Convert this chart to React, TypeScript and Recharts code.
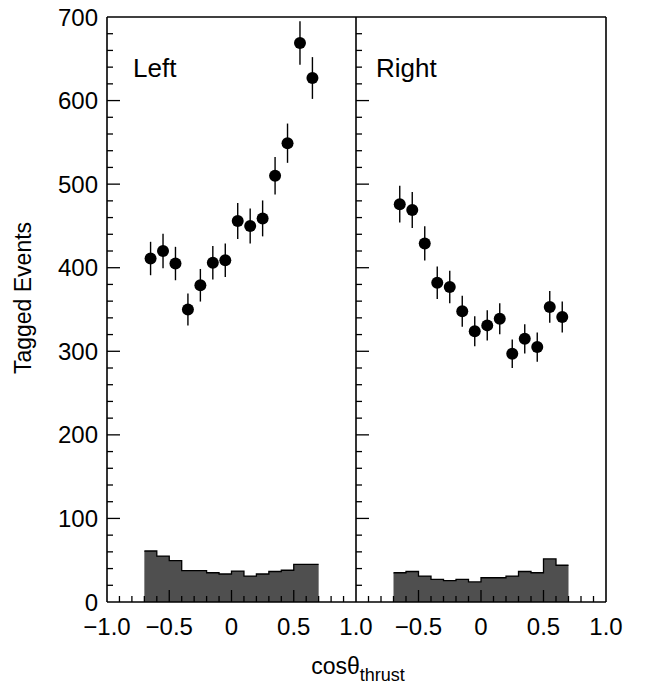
import React from 'react';
import { ComposedChart, Area, Scatter, ErrorBar, XAxis, YAxis, ReferenceLine } from 'recharts';

// histogram bin edges (shared by both panels) and point positions
const binEdges = [-0.7, -0.6, -0.5, -0.4, -0.3, -0.2, -0.1, 0, 0.1, 0.2, 0.3, 0.4, 0.5, 0.6, 0.7];
const binCenters = [-0.65, -0.55, -0.45, -0.35, -0.25, -0.15, -0.05, 0.05, 0.15, 0.25, 0.35, 0.45, 0.55, 0.65];

// shaded background histograms
const leftBackground = [61, 55, 49.5, 37.5, 37.5, 35, 33.5, 37, 31, 33.5, 36.5, 38, 45, 45];
const rightBackground = [35, 36.5, 31, 27, 25.5, 27, 24, 29, 29, 31, 36.5, 35, 51.5, 44];

// tagged events with errors
const leftEvents = [411, 420, 405, 350, 379, 406, 409, 456, 450, 459, 510, 549, 669, 627];
const leftErrors = [20, 20.5, 20, 19, 19.5, 20, 20, 21.5, 21, 21.5, 22.5, 23.5, 26, 25];
const rightEvents = [476, 469, 429, 382, 377, 348, 324, 331, 339, 297, 315, 305, 353, 341];
const rightErrors = [22, 21.5, 20.5, 19.5, 19.5, 18.5, 18, 18, 18.5, 17, 17.5, 17.5, 19, 18.5];

const xTicks = [-1, -0.9, -0.8, -0.7, -0.6, -0.5, -0.4, -0.3, -0.2, -0.1, 0, 0.1, 0.2, 0.3, 0.4, 0.5, 0.6, 0.7, 0.8, 0.9, 1];
const yTicks = [0, 20, 40, 60, 80, 100, 120, 140, 160, 180, 200, 220, 240, 260, 280, 300, 320, 340, 360, 380, 400,
  420, 440, 460, 480, 500, 520, 540, 560, 580, 600, 620, 640, 660, 680, 700];

const FONT = '"Liberation Sans", Arial, Helvetica, sans-serif';

const stepRows = (counts: number[]) =>
  binEdges.map((x, i) => ({ x, count: counts[Math.min(i, counts.length - 1)] }));

const pointRows = (vals: number[], errs: number[]) =>
  binCenters.map((x, i) => ({ x, y: vals[i], err: errs[i] }));

const fmtX = (v: number) => {
  if (Math.abs(v) < 1e-9) return '0';
  const s = Math.abs(v).toFixed(1);
  return v < 0 ? '\u2212' + s : s;
};

const XTick = (props: any) => {
  const { x, y, payload, skipFirst } = props;
  const v = payload.value;
  const edge = Math.abs(Math.abs(v) - 1) < 1e-6;
  const major = Math.abs(v * 2 - Math.round(v * 2)) < 1e-6;
  const len = major ? 12 : 6;
  const showLabel = major && !(skipFirst && v < -0.99);
  return (
    <g>
      {!edge && <line x1={x} x2={x} y1={y} y2={y - len} stroke="#000" strokeWidth={1.3} />}
      {showLabel && (
        <text x={x} y={y + 33} textAnchor="middle" fontSize={24} fill="#000" fontFamily={FONT}>
          {fmtX(v)}
        </text>
      )}
    </g>
  );
};

const YTick = (props: any) => {
  const { x, y, payload, dir, showLabel } = props;
  const v = payload.value;
  const major = v % 100 === 0;
  const len = major ? 13 : 6;
  const edge = v === 0 || v === 700;
  return (
    <g>
      {!edge && <line x1={x} x2={x + dir * len} y1={y} y2={y} stroke="#000" strokeWidth={1.3} />}
      {showLabel && major && (
        <text x={x - 9} y={y} dy="0.36em" textAnchor="end" fontSize={24} fill="#000" fontFamily={FONT}>
          {v}
        </text>
      )}
    </g>
  );
};

const Dot = (p: any) => <circle cx={p.cx} cy={p.cy} r={6} fill="#000" />;

const Panel = (props: any) => {
  const { counts, events, errors, width, margin, yWidth, showYLabels, skipFirst, rightEdge } = props;
  const areaAxis = rightEdge ? 'edge' : 0;
  return (
    <ComposedChart width={width} height={685} data={stepRows(counts)} margin={margin}>
      <XAxis
        dataKey="x"
        type="number"
        domain={[-1, 1]}
        ticks={xTicks}
        interval={0}
        height={83}
        tickSize={0}
        tickMargin={0}
        tickLine={false}
        axisLine={{ stroke: '#000', strokeWidth: 1.6 }}
        tick={(p: any) => <XTick {...p} skipFirst={skipFirst} />}
      />
      <YAxis
        type="number"
        domain={[0, 700]}
        allowDataOverflow
        ticks={yTicks}
        interval={0}
        width={yWidth}
        tickSize={0}
        tickMargin={0}
        tickLine={false}
        axisLine={{ stroke: '#000', strokeWidth: 1.6 }}
        tick={(p: any) => <YTick {...p} dir={1} showLabel={showYLabels} />}
      />
      {rightEdge && (
        <YAxis
          yAxisId="edge"
          orientation="right"
          type="number"
          domain={[0, 700]}
          allowDataOverflow
          ticks={yTicks}
          interval={0}
          width={0}
          tickSize={0}
          tickMargin={0}
          tickLine={false}
          axisLine={{ stroke: '#000', strokeWidth: 1.6 }}
          tick={(p: any) => <YTick {...p} dir={-1} showLabel={false} />}
        />
      )}
      <ReferenceLine y={700} stroke="#000" strokeWidth={1.6} />
      {rightEdge && <ReferenceLine x={1} stroke="#000" strokeWidth={1.6} />}
      <Area
        yAxisId={areaAxis}
        type="stepAfter"
        dataKey="count"
        stroke="#000"
        strokeWidth={1.3}
        fill="#4f4f4f"
        fillOpacity={1}
        dot={false}
        activeDot={false}
        isAnimationActive={false}
      />
      <Scatter data={pointRows(events, errors)} dataKey="y" shape={Dot} isAnimationActive={false}>
        <ErrorBar dataKey="err" direction="y" width={0} stroke="#000" strokeWidth={1.4} isAnimationActive={false} />
      </Scatter>
    </ComposedChart>
  );
};

export default function App() {
  return (
    <div style={{ position: 'absolute', left: 0, top: 0, width: 652, height: 685, background: '#fff', overflow: 'hidden' }}>
      <div style={{ position: 'absolute', left: 0, top: 0 }}>
        <Panel
          counts={leftBackground}
          events={leftEvents}
          errors={leftErrors}
          width={390}
          margin={{ top: 17, right: 34, bottom: 0, left: 0 }}
          yWidth={107}
          showYLabels
          skipFirst={false}
          rightEdge={false}
        />
      </div>
      <div style={{ position: 'absolute', left: 300, top: 0 }}>
        <Panel
          counts={rightBackground}
          events={rightEvents}
          errors={rightErrors}
          width={352}
          margin={{ top: 17, right: 46, bottom: 0, left: 0 }}
          yWidth={56}
          showYLabels={false}
          skipFirst
          rightEdge
        />
      </div>
      <svg width={652} height={685} style={{ position: 'absolute', left: 0, top: 0, pointerEvents: 'none' }}>
        <g fontFamily={FONT} fill="#000">
          <text x={133} y={77} fontSize={26}>Left</text>
          <text x={376} y={77} fontSize={26}>Right</text>
          <text x={31} y={298} fontSize={23} textAnchor="middle" transform="rotate(-90, 31, 298)">
            Tagged Events
          </text>
          <text x={358} y={674} fontSize={23} textAnchor="middle">
            cosθ<tspan fontSize={18} dy={7}>thrust</tspan>
          </text>
        </g>
      </svg>
    </div>
  );
}
